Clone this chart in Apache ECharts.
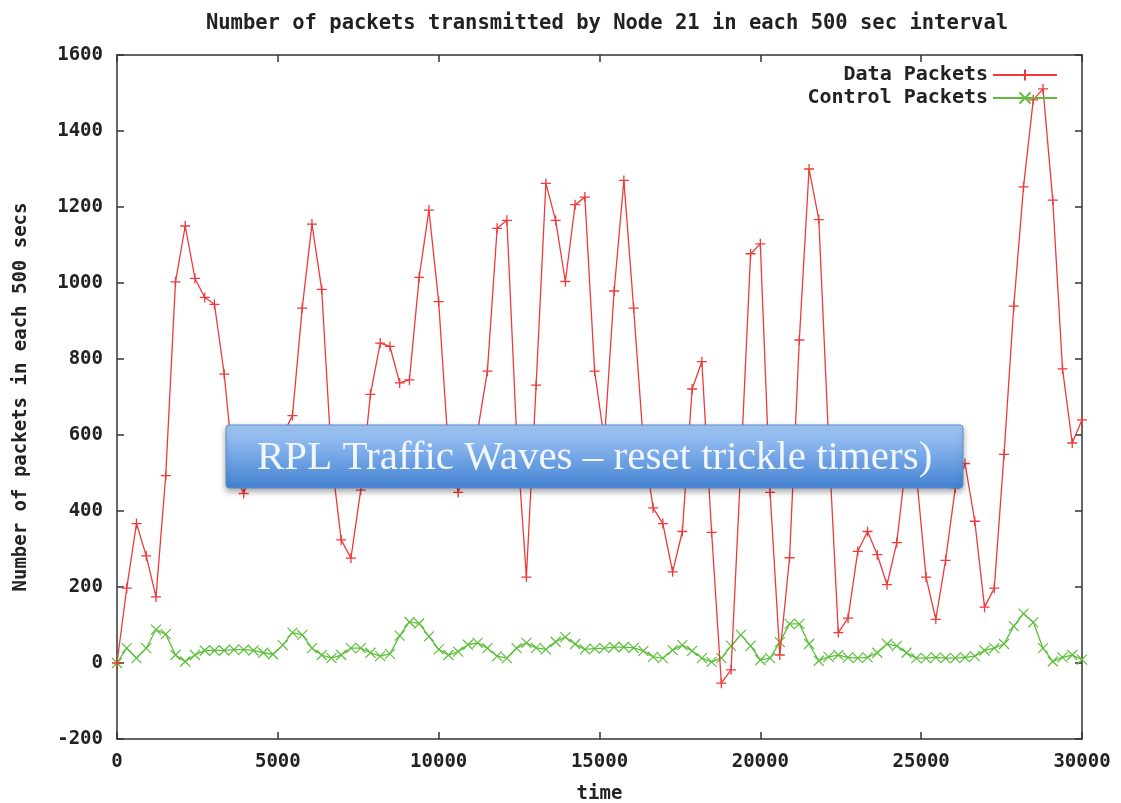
<!DOCTYPE html>
<html>
<head>
<meta charset="utf-8">
<script src="https://cdn.jsdelivr.net/npm/echarts@6/dist/echarts.min.js"></script>
<style>
  html, body { margin: 0; padding: 0; background: #ffffff; }
  #chart { width: 1121px; height: 803px; }
</style>
</head>
<body>
<div id="chart"></div>
<script>
// Sample times (sec) of each bucket
const times = [
  0, 303, 606, 909, 1212, 1515, 1818, 2121, 2424, 2727,
  3030, 3333, 3636, 3939, 4242, 4545, 4848, 5152, 5455, 5758,
  6061, 6364, 6667, 6970, 7273, 7576, 7879, 8182, 8485, 8788,
  9091, 9394, 9697, 10000, 10303, 10606, 10909, 11212, 11515, 11818,
  12121, 12424, 12727, 13030, 13333, 13636, 13939, 14242, 14545, 14848,
  15152, 15455, 15758, 16061, 16364, 16667, 16970, 17273, 17576, 17879,
  18182, 18485, 18788, 19091, 19394, 19697, 20000, 20303, 20606, 20909,
  21212, 21515, 21818, 22121, 22424, 22727, 23030, 23333, 23636, 23939,
  24242, 24545, 24848, 25152, 25455, 25758, 26061, 26364, 26667, 26970,
  27273, 27576, 27879, 28182, 28485, 28788, 29091, 29394, 29697, 30000
];

// Data packets sent by node 21 per bucket
const dataPackets = [
  0, 197, 367, 282, 174, 493, 1003, 1150, 1012, 962,
  944, 760, 500, 446, 520, 560, 540, 600, 651, 934,
  1155, 983, 540, 324, 276, 455, 707, 842, 833, 737,
  745, 1015, 1192, 951, 560, 449, 520, 610, 768, 1144,
  1165, 600, 226, 731, 1262, 1165, 1004, 1206, 1226, 768,
  585, 979, 1270, 934, 580, 408, 367, 240, 346, 721,
  793, 344, -53, -18, 520, 1077, 1103, 449, 21, 277,
  850, 1300, 1167, 590, 80, 118, 294, 346, 285, 206,
  317, 540, 500, 226, 115, 270, 461, 525, 373, 147,
  197, 549, 939, 1253, 1482, 1511, 1218, 774, 579, 640
];

// Control packets sent by node 21 per bucket
const controlPackets = [
  0, 39, 13, 39, 88, 76, 21, 4, 21, 33,
  33, 33, 35, 35, 33, 27, 23, 47, 80, 74,
  39, 21, 13, 21, 39, 39, 27, 18, 24, 72,
  108, 104, 70, 36, 21, 30, 48, 53, 39, 18,
  13, 39, 53, 40, 36, 56, 68, 50, 36, 38,
  39, 42, 42, 40, 32, 16, 13, 34, 47, 32,
  13, 3, 13, 45, 74, 45, 8, 13, 55, 103,
  103, 50, 6, 16, 21, 15, 13, 15, 27, 50,
  45, 27, 13, 13, 15, 13, 13, 15, 18, 33,
  39, 50, 97, 130, 107, 39, 4, 15, 21, 9
];

const xTicks = [0, 5000, 10000, 15000, 20000, 25000, 30000];
const yTicks = [-200, 0, 200, 400, 600, 800, 1000, 1200, 1400, 1600];

const MONO = '"DejaVu Sans Mono", "Liberation Mono", monospace';
const RED = '#ee3a3a';
const GREEN = '#5cbf3a';
const INK = '#222222';

const tickFont = { fontFamily: MONO, fontWeight: 'bold', fontSize: 19, color: INK };

function frameAxis(base) {
  return Object.assign({
    type: 'value',
    axisLine: { show: true, onZero: false, lineStyle: { color: '#333', width: 1.5 } },
    axisTick: { show: true, inside: true, length: 7, lineStyle: { color: '#333', width: 1.5 } },
    splitLine: { show: false }
  }, base);
}

const xBase = { min: xTicks[0], max: xTicks[xTicks.length - 1], interval: xTicks[1] - xTicks[0] };
const yBase = { min: yTicks[0], max: yTicks[yTicks.length - 1], interval: yTicks[1] - yTicks[0] };

const chart = echarts.init(document.getElementById('chart'), null, { renderer: 'canvas' });

chart.setOption({
  backgroundColor: '#ffffff',
  animation: false,
  title: {
    text: 'Number of packets transmitted by Node 21 in each 500 sec interval',
    left: 602,
    top: 8,
    textAlign: 'center',
    textStyle: { fontFamily: MONO, fontWeight: 'bold', fontSize: 20.5, color: INK }
  },
  grid: { left: 117, right: 39, top: 55, bottom: 64, outerBoundsMode: 'none', containLabel: false },
  legend: {
    orient: 'vertical',
    align: 'right',
    right: 58,
    top: 60,
    itemWidth: 64,
    itemHeight: 14,
    itemGap: 3,
    textStyle: { fontFamily: MONO, fontWeight: 'bold', fontSize: 20, color: INK },
    data: ['Data Packets', 'Control Packets']
  },
  xAxis: [
    frameAxis(Object.assign({}, xBase, {
      position: 'bottom',
      name: 'time',
      nameLocation: 'middle',
      nameGap: 46,
      nameTextStyle: { fontFamily: MONO, fontWeight: 'bold', fontSize: 19, color: INK },
      axisLabel: Object.assign({ margin: 14, formatter: v => String(v) }, tickFont)
    })),
    frameAxis(Object.assign({}, xBase, { position: 'top', axisLabel: { show: false } }))
  ],
  yAxis: [
    frameAxis(Object.assign({}, yBase, {
      position: 'left',
      name: 'Number of packets in each 500 secs',
      nameLocation: 'middle',
      nameGap: 86,
      nameRotate: 90,
      nameTextStyle: { fontFamily: MONO, fontWeight: 'bold', fontSize: 19, color: INK },
      axisLabel: Object.assign({ margin: 14, formatter: v => String(v) }, tickFont)
    })),
    frameAxis(Object.assign({}, yBase, { position: 'right', axisLabel: { show: false } }))
  ],
  series: [
    {
      name: 'Data Packets',
      type: 'line',
      xAxisIndex: 0,
      yAxisIndex: 0,
      data: times.map((t, i) => [t, dataPackets[i]]),
      symbol: 'path://M0,5L10,5M5,0L5,10',
      symbolSize: 10,
      showAllSymbol: true,
      lineStyle: { color: RED, width: 1.3 },
      itemStyle: { color: RED, borderColor: RED, borderWidth: 1.3 },
      z: 3
    },
    {
      name: 'Control Packets',
      type: 'line',
      xAxisIndex: 0,
      yAxisIndex: 0,
      data: times.map((t, i) => [t, controlPackets[i]]),
      symbol: 'path://M0,0L10,10M10,0L0,10',
      symbolSize: 10,
      showAllSymbol: true,
      lineStyle: { color: GREEN, width: 1.3 },
      itemStyle: { color: GREEN, borderColor: GREEN, borderWidth: 1.2 },
      z: 2
    }
  ],
  graphic: [
    {
      type: 'rect',
      z: 100,
      shape: { x: 226, y: 425, width: 737, height: 63, r: 3 },
      style: {
        fill: new echarts.graphic.LinearGradient(0, 0, 0, 1, [
          { offset: 0, color: '#a6cbf7' },
          { offset: 0.45, color: '#7aaae8' },
          { offset: 1, color: '#4381d0' }
        ]),
        stroke: '#5b8cd0',
        lineWidth: 1,
        shadowBlur: 6,
        shadowOffsetY: 3,
        shadowColor: 'rgba(0,0,0,0.35)'
      }
    },
    {
      type: 'text',
      z: 101,
      style: {
        text: 'RPL Traffic Waves \u2013 reset trickle timers)',
        x: 257,
        y: 458,
        align: 'left',
        verticalAlign: 'middle',
        fontFamily: '"Liberation Serif", "DejaVu Serif", serif',
        fontSize: 41,
        fill: '#f2f7ff'
      }
    }
  ]
});
</script>
</body>
</html>
